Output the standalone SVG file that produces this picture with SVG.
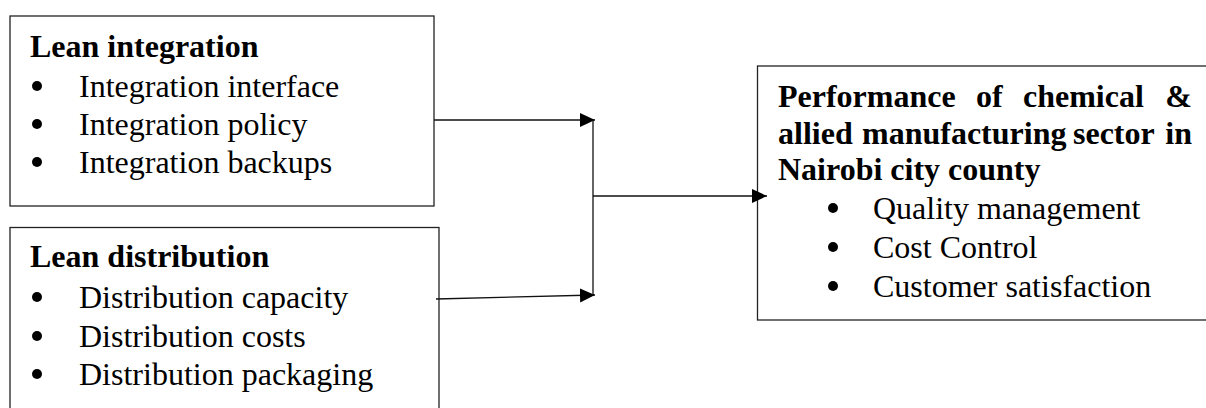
<svg xmlns="http://www.w3.org/2000/svg" width="1206" height="408" viewBox="0 0 1206 408">
<defs>
<style>
.box{fill:#fff;stroke:#222;stroke-width:1.3}
.t{font-family:"Liberation Serif","Times New Roman",serif;font-size:32px;fill:#000}
.b{font-weight:bold}
.dot{fill:#000}
.conn{stroke:#111;stroke-width:1.3;fill:none}
</style>
<marker id="ah" markerUnits="userSpaceOnUse" markerWidth="16" markerHeight="16" viewBox="0 0 16 16" refX="15" refY="8" orient="auto">
<path d="M0,1 L15,8 L0,15 Z" fill="#000"/>
</marker>
</defs>
<rect width="1206" height="408" fill="#fff"/>
<g id="lean-integration">
<rect class="box" x="10" y="16" width="424" height="190"/>
<text class="t b" x="30" y="57">Lean integration</text>
<circle class="dot" cx="37" cy="86" r="5"/>
<text class="t" x="79" y="97">Integration interface</text>
<circle class="dot" cx="37" cy="124" r="5"/>
<text class="t" x="79" y="134.5">Integration policy</text>
<circle class="dot" cx="37" cy="162" r="5"/>
<text class="t" x="79" y="173">Integration backups</text>
</g>
<g id="lean-distribution">
<rect class="box" x="10" y="227.5" width="429" height="200"/>
<text class="t b" x="30" y="267">Lean distribution</text>
<circle class="dot" cx="37" cy="297" r="5"/>
<text class="t" x="79" y="308">Distribution capacity</text>
<circle class="dot" cx="37" cy="336" r="5"/>
<text class="t" x="79" y="347">Distribution costs</text>
<circle class="dot" cx="37" cy="374" r="5"/>
<text class="t" x="79" y="385">Distribution packaging</text>
</g>
<g id="performance">
<rect class="box" x="757.5" y="66" width="500" height="254"/>
<text class="t b" y="107"><tspan x="778">Performance</tspan><tspan x="976">of</tspan><tspan x="1023">chemical</tspan><tspan x="1192" text-anchor="end">&amp;</tspan></text>
<text class="t b" y="143.5"><tspan x="778">allied</tspan><tspan x="862">manufacturing</tspan><tspan x="1073">sector</tspan><tspan x="1192" text-anchor="end">in</tspan></text>
<text class="t b" x="778" y="180">Nairobi city county</text>
<circle class="dot" cx="833" cy="208" r="5"/>
<text class="t" x="873" y="218.5">Quality management</text>
<circle class="dot" cx="833" cy="247" r="5"/>
<text class="t" x="873" y="258">Cost Control</text>
<circle class="dot" cx="833" cy="286" r="5"/>
<text class="t" x="873" y="297">Customer satisfaction</text>
</g>
<g id="connectors">
<line class="conn" x1="434" y1="120" x2="595" y2="120" marker-end="url(#ah)"/>
<line class="conn" x1="436" y1="299" x2="595" y2="295" marker-end="url(#ah)"/>
<line class="conn" x1="593" y1="120" x2="593" y2="295"/>
<line class="conn" x1="593" y1="196" x2="767" y2="196" marker-end="url(#ah)"/>
</g>
</svg>
